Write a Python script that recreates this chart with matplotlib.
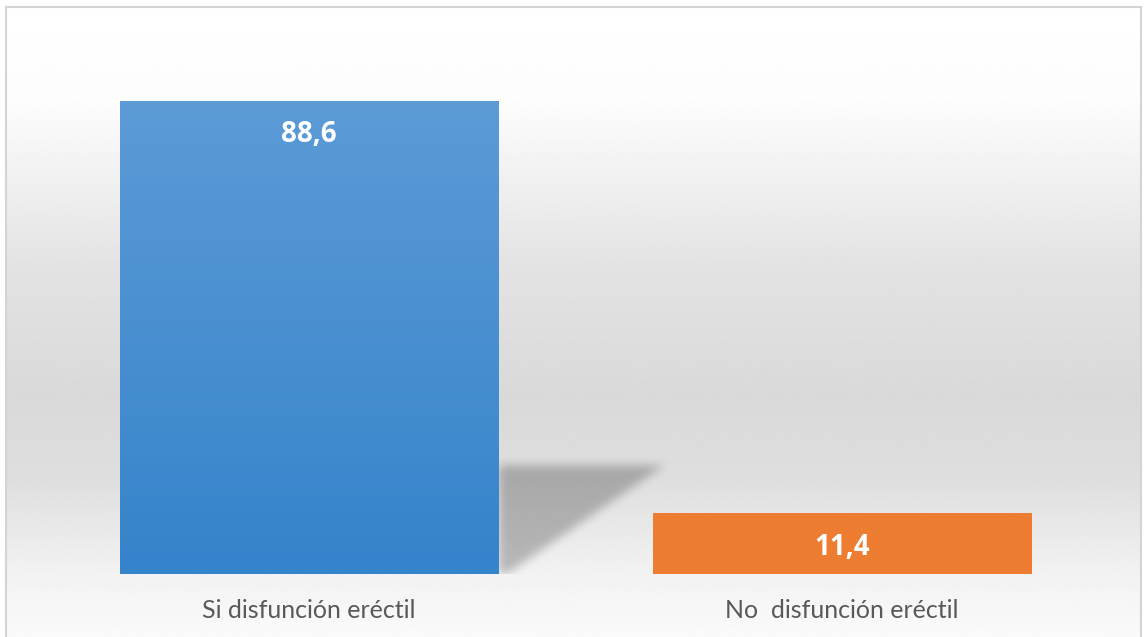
import numpy as np
import matplotlib
matplotlib.use("Agg")
import matplotlib.pyplot as plt

categories = ["Si disfunción eréctil", "No  disfunción eréctil"]
values = [88.6, 11.4]
value_labels = ["88,6", "11,4"]
colors_top = ["#5c9bd6", "#ed7d31"]
colors_bottom = ["#3583cb", "#ed7d31"]

W, H = 1144, 637
fig = plt.figure(figsize=(W / 100, H / 100), dpi=100)
fig.patch.set_facecolor("white")

# background panel with vertical grey gradient and light border
bg = fig.add_axes([6 / W, 0, (1141 - 6) / W, (H - 7) / H])
rows = np.linspace(0, 1, 400)  # 0 = top
stops_y = [0.0, 0.15, 0.42, 0.62, 0.75, 0.9, 1.0]
stops_c = [255, 252, 226, 217, 222, 242, 250]
shade = np.interp(rows, stops_y, stops_c) / 255.0
grad = np.repeat(shade[:, None], 2, axis=1)
bg.imshow(grad, cmap="gray", vmin=0, vmax=1, aspect="auto",
          extent=[0, 1, 0, 1], interpolation="bilinear")
bg.set_xlim(0, 1)
bg.set_ylim(0, 1)
bg.set_xticks([])
bg.set_yticks([])
for s in ["top", "left", "right"]:
    bg.spines[s].set_color("#d4d4d4")
    bg.spines[s].set_linewidth(1.5)
bg.spines["bottom"].set_visible(False)

# main plot area
ax = fig.add_axes([42.5 / W, (H - 574) / H, 1066 / W, (574 - 40) / H])
ax.set_facecolor("none")
for s in ax.spines.values():
    s.set_visible(False)
ax.set_yticks([])
ax.set_xticks(range(len(categories)))
ax.set_xticklabels(categories, fontsize=18, color="#595959", family="Lato")
ax.tick_params(axis="x", length=0, pad=18)

bar_w = 0.71
x = np.arange(len(categories))

# soft perspective shadow behind the first (tall) bar
xr = x[0] + bar_w / 2
sh_h = values[0] * 0.23
gx = np.linspace(xr - 0.05, xr + 0.45, 300)
gy = np.linspace(-3, sh_h + 6, 200)
GX, GY = np.meshgrid(gx, gy)
slope = (0.31 - 0.015) / sh_h
mask = ((GX >= xr) & (GY >= 0) & (GY <= sh_h) &
        (GX <= xr + 0.015 + GY * slope)).astype(float)
k = np.ones(11) / 11
for _ in range(3):
    mask = np.apply_along_axis(lambda r: np.convolve(r, k, mode="same"), 1, mask)
    mask = np.apply_along_axis(lambda c: np.convolve(c, k, mode="same"), 0, mask)
rgba = np.zeros(mask.shape + (4,))
rgba[..., 3] = mask * 0.24
ax.imshow(rgba, extent=[gx[0], gx[-1], gy[0], gy[-1]], origin="lower",
          aspect="auto", zorder=1, interpolation="bilinear")

bars = ax.bar(x, values, width=bar_w, color=colors_top, zorder=2)

# vertical gradient fill on bars
for b, ct, cb in zip(bars, colors_top, colors_bottom):
    c1 = np.array(matplotlib.colors.to_rgb(ct))
    c2 = np.array(matplotlib.colors.to_rgb(cb))
    t = np.linspace(0, 1, 256)[:, None]
    img = (c1 * (1 - t) + c2 * t)[:, None, :]
    x0, y0 = b.get_x(), b.get_y()
    im = ax.imshow(img, extent=[x0, x0 + b.get_width(), y0, y0 + b.get_height()],
                   aspect="auto", zorder=3, origin="upper")
    im.set_clip_path(b)

ax.set_xlim(-0.5, 1.5)
ax.set_ylim(0, 100)

for xi, v, lab in zip(x, values, value_labels):
    ax.annotate(lab, (xi, v), xytext=(0, -34), textcoords="offset pixels",
                ha="center", va="center", fontsize=20, fontweight="bold",
                color="white", family="Open Sans", zorder=4)

fig.savefig("out.png", dpi=100)
